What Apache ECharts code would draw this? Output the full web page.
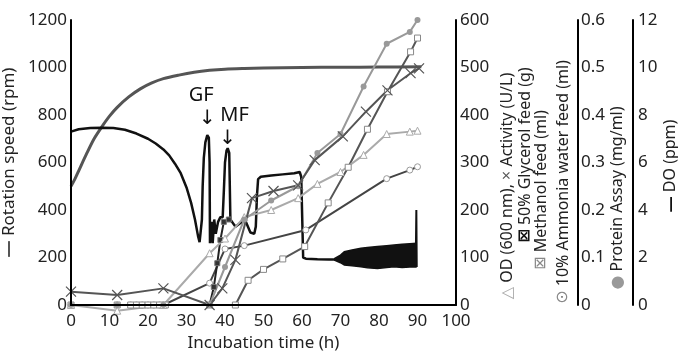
<!DOCTYPE html>
<html>
<head>
<meta charset="utf-8">
<script src="https://cdn.jsdelivr.net/npm/echarts@6/dist/echarts.min.js"></script>
<style>
  html, body { margin: 0; padding: 0; background: #fff; }
  #chart { width: 678px; height: 351px; }
</style>
</head>
<body>
<div id="chart"></div>
<script>
// rotation speed (rpm), left axis
var rpmTime = [0, 1, 2, 4, 6, 8, 10, 12, 15, 18, 21, 24, 28, 32, 36, 40, 45, 50, 60, 70, 80, 91];
var rpmVal = [500, 530, 565, 635, 700, 750, 795, 832, 876, 910, 935, 953, 968, 980, 988, 993, 996, 998, 1000, 1001, 1002, 1003];

// DO (ppm), outer right axis
var doTime = [0, 2, 5, 8, 11, 14, 17, 20, 22, 24, 25.5, 27, 28.5, 30, 31.2, 32.2, 33, 33.4, 33.8, 34.0, 34.2, 34.5, 34.9, 35.4, 35.8, 36.0, 36.1,
  36.5, 36.8, 37.2, 37.6, 38.2, 38.8, 39.4, 39.7, 40.0, 40.4, 40.7, 41.1, 41.4, 42.7, 44.0, 45.3, 46.6, 47.6, 48.0, 48.3, 48.6, 49.3,
  52, 55, 58, 59.4, 59.8, 60.3, 61, 64, 67, 68.5];
var doVal = [7.3, 7.4, 7.45, 7.46, 7.45, 7.38, 7.22, 7.0, 6.8, 6.55, 6.3, 5.95, 5.55, 4.95, 4.3, 3.6, 2.9, 2.65, 2.7, 3.6, 5.0, 6.2, 6.85, 7.15, 7.05, 6.0, 2.6,
  3.5, 2.6, 3.6, 3.0, 3.5, 3.7, 3.7, 4.8, 6.0, 6.5, 6.6, 6.4, 3.6, 3.3, 3.45, 3.55, 3.05, 3.0, 3.3, 4.6, 5.3, 5.4,
  5.45, 5.5, 5.55, 5.6, 5.4, 2.0, 1.95, 1.93, 1.92, 1.92];
// noisy DO band at the end of the run (lower and upper edge)
var bandTime = [68.5, 70, 71, 73, 75.3, 77, 79.6, 82, 83.9, 86, 88, 89.6];
var bandLow = [1.88, 1.78, 1.68, 1.65, 1.61, 1.57, 1.54, 1.58, 1.61, 1.58, 1.6, 1.6];
var bandHigh = [1.96, 2.1, 2.24, 2.32, 2.39, 2.42, 2.46, 2.5, 2.53, 2.56, 2.58, 2.6];
var spikeTime = [89.6, 89.7, 89.8];
var spikeVal = [2.6, 4.0, 1.6];

// OD (600 nm) and activity (U/L), 0-600 axis
var odTime = [0, 12, 24, 36, 40, 45, 52, 59, 64, 70, 76, 82, 88, 90];
var odVal = [0, -12, 0, 109, 140, 185, 200, 225, 255, 280, 316, 360, 365, 367];
var actTime = [0, 12, 24, 36, 39.3, 42.7, 47, 52.6, 59, 63.3, 70.6, 76.6, 82.2, 88.2, 90.4];
var actVal = [28, 21, 35, 0, 35, 95, 225, 240, 252, 305, 355, 407, 452, 488, 498];

// feeds, 0-600 axis
var glyTime = [36, 37.1, 38, 38.8, 39.7, 41];
var glyVal = [0, 38, 88, 137, 175, 180];
var metTime = [0, 12, 15.5, 17, 18.5, 20, 21.5, 23, 24.5, 36, 42.7, 46, 50, 55, 60.7, 66.8, 72, 77, 82.2, 88.2, 90];
var metVal = [0, 0, 0, 0, 0, 0, 0, 0, 0, 0, 0, 52, 75, 97, 123, 215, 290, 370, 449, 533, 562];
var ammTime = [0, 12, 15.5, 17, 18.5, 20, 21.5, 23, 24, 36, 40, 45, 61, 82, 88, 90];
var ammVal = [0, 0, 0, 0, 0, 0, 0, 0, 0, 46, 118, 125, 158, 266, 284, 291];

// protein assay (mg/ml)
var protTime = [0, 12, 24, 36, 40, 45, 52, 59, 64, 70, 76, 82, 88, 90];
var protVal = [0, 0, 0, 0, 0.08, 0.18, 0.22, 0.25, 0.32, 0.36, 0.46, 0.55, 0.575, 0.6];

function pairs(xs, ys) {
  var out = [];
  for (var i = 0; i < xs.length; i++) out.push([xs[i], ys[i]]);
  return out;
}

var font = "'Noto Sans', 'DejaVu Sans', sans-serif";
var txt = '#222';
var chart = echarts.init(document.getElementById('chart'));

function yAx(opt) {
  return Object.assign({
    type: 'value',
    min: 0,
    z: 5,
    axisLine: { show: true, lineStyle: { color: '#000', width: 2 } },
    axisTick: { show: false },
    splitLine: { show: false },
    axisLabel: { color: txt, fontSize: 17, fontFamily: font, margin: 4, formatter: function (v) { return String(v); } }
  }, opt);
}

function sideText(x, y, text, rich) {
  return {
    type: 'text', x: x, y: y, rotation: Math.PI / 2,
    style: {
      text: text, align: 'center', verticalAlign: 'middle',
      fontSize: 16, fontFamily: font, fill: txt, rich: rich
    }
  };
}

var symRich = {
  tri: { fill: '#aaa', fontSize: 16, fontFamily: font },
  x: { fill: '#555', fontSize: 16, fontFamily: font },
  gb: { fill: '#111', fontSize: 16, fontWeight: 'bold', fontFamily: "'DejaVu Sans'" },
  mb: { fill: '#888', fontSize: 16, fontFamily: "'DejaVu Sans'" },
  ci: { fill: '#888', fontSize: 16, fontFamily: "'DejaVu Sans'" },
  pr: { fill: '#999', fontSize: 16, fontFamily: font },
  dk: { fill: '#111', fontSize: 16, fontWeight: 'bold', fontFamily: font }
};

// band polygon: upper edge left->right, lower edge right->left
function renderBand(params, api) {
  var pts = [];
  for (var i = 0; i < bandTime.length; i++) pts.push(api.coord([bandTime[i], bandHigh[i]]));
  for (var j = bandTime.length - 1; j >= 0; j--) pts.push(api.coord([bandTime[j], bandLow[j]]));
  return {
    type: 'polygon',
    shape: { points: pts },
    style: { fill: '#111', stroke: '#111', lineWidth: 1.5 }
  };
}

var option = {
  animation: false,
  grid: { left: 71, right: 222, top: 20, bottom: 46, outerBoundsMode: 'none', containLabel: false },
  xAxis: {
    type: 'value', min: 0, max: 100, interval: 10, z: 5,
    axisLine: { lineStyle: { color: '#000', width: 2 } },
    axisTick: { show: false },
    splitLine: { show: false },
    axisLabel: { color: txt, fontSize: 17, fontFamily: font, margin: 8 },
    name: 'Incubation time (h)', nameLocation: 'middle', nameGap: 27,
    nameTextStyle: { color: txt, fontSize: 17, fontFamily: font }
  },
  yAxis: [
    yAx({
      position: 'left', max: 1200, interval: 200,
      name: '{d|—} Rotation speed (rpm)', nameLocation: 'middle', nameGap: 44,
      nameTextStyle: { color: txt, fontSize: 17, fontFamily: font,
        rich: { d: { color: '#555', fontSize: 17, fontWeight: 'bold' } } }
    }),
    yAx({ position: 'right', offset: 0, max: 600, interval: 100 }),
    yAx({ position: 'right', offset: 122, max: 0.6, interval: 0.1,
      axisLabel: { color: txt, fontSize: 17, fontFamily: font, margin: 3 } }),
    yAx({ position: 'right', offset: 177, max: 12, interval: 2,
      axisLabel: { color: txt, fontSize: 17, fontFamily: font, margin: 5 } })
  ],
  graphic: [
    sideText(507, 186, '{tri|△} OD (600 nm), {x|×} Activity (U/L)', symRich),
    sideText(525, 155, '{gb|⊠} 50% Glycerol feed (g)', symRich),
    sideText(541, 190, '{mb|⊠} Methanol feed (ml)', symRich),
    sideText(563, 182, '{ci|⊙} 10% Ammonia water feed (ml)', symRich),
    sideText(617, 198, '{pr|●} Protein Assay (mg/ml)', symRich),
    sideText(670, 166, '{dk|—} DO (ppm)', symRich)
  ],
  series: [
    {
      name: 'DO band', type: 'custom', yAxisIndex: 3,
      data: pairs(bandTime, bandLow),
      encode: { x: 0, y: 1 },
      renderItem: function (params, api) {
        return params.dataIndex === 0 ? renderBand(params, api) : null;
      }
    },
    {
      name: 'DO spike', type: 'line', yAxisIndex: 3,
      data: pairs(spikeTime, spikeVal), showSymbol: false,
      lineStyle: { color: '#111', width: 2 }
    },
    {
      name: 'Rotation speed', type: 'line', yAxisIndex: 0, smooth: 0.3,
      data: pairs(rpmTime, rpmVal), showSymbol: false,
      lineStyle: { color: '#555', width: 3 }
    },
    {
      name: 'DO', type: 'line', yAxisIndex: 3,
      data: pairs(doTime, doVal), showSymbol: false,
      lineStyle: { color: '#111', width: 2.5 },
      markPoint: {
        symbol: 'circle', symbolSize: 1, itemStyle: { color: 'transparent' },
        label: { show: true, position: 'inside', formatter: '{b}', color: '#111', fontSize: 20, fontFamily: font },
        data: [
          { name: 'GF', coord: [33.8, 8.84] },
          { name: '↓', coord: [35.4, 7.85] },
          { name: 'MF', coord: [42.5, 7.98] },
          { name: '↓', coord: [40.7, 7.0] }
        ]
      }
    },
    {
      name: 'Ammonia', type: 'line', yAxisIndex: 1,
      data: pairs(ammTime, ammVal), symbol: 'circle', symbolSize: 6,
      itemStyle: { color: '#fff', borderColor: '#999', borderWidth: 1 },
      lineStyle: { color: '#444', width: 2 }
    },
    {
      name: 'Glycerol', type: 'line', yAxisIndex: 1,
      data: pairs(glyTime, glyVal), symbol: 'rect', symbolSize: 5,
      itemStyle: { color: '#333', borderColor: '#777', borderWidth: 1 },
      lineStyle: { color: '#222', width: 2 }
    },
    {
      name: 'Methanol', type: 'line', yAxisIndex: 1,
      data: pairs(metTime, metVal), symbol: 'rect', symbolSize: 6,
      itemStyle: { color: '#fff', borderColor: '#888', borderWidth: 1 },
      lineStyle: { color: '#555', width: 2 }
    },
    {
      name: 'OD', type: 'line', yAxisIndex: 1, clip: false,
      data: pairs(odTime, odVal), symbol: 'triangle', symbolSize: 7,
      itemStyle: { color: '#fff', borderColor: '#aaa', borderWidth: 1 },
      lineStyle: { color: '#aaa', width: 2 }
    },
    {
      name: 'Protein', type: 'line', yAxisIndex: 2,
      data: pairs(protTime, protVal), symbol: 'circle', symbolSize: 6,
      itemStyle: { color: '#999' },
      lineStyle: { color: '#999', width: 2 }
    },
    {
      name: 'Activity', type: 'line', yAxisIndex: 1,
      data: pairs(actTime, actVal), symbol: 'path://M0 0L10 10M10 0L0 10', symbolSize: 10,
      itemStyle: { color: 'transparent', borderColor: '#555', borderWidth: 1.2 },
      lineStyle: { color: '#555', width: 2 }
    }
  ]
};

chart.setOption(option);
</script>
</body>
</html>
